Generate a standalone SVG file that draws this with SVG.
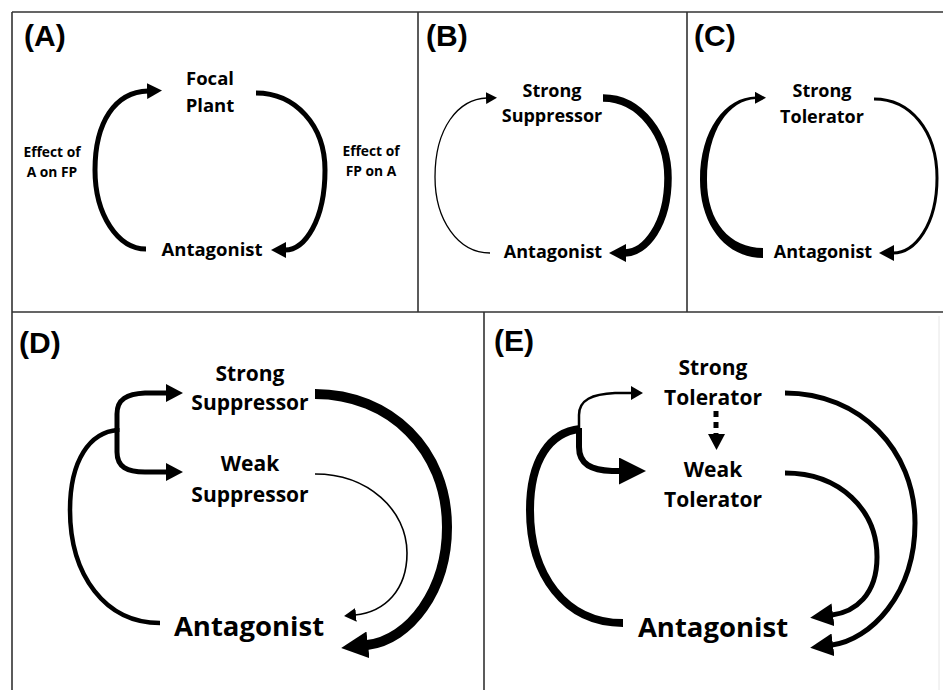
<svg xmlns="http://www.w3.org/2000/svg" width="943" height="690" viewBox="0 0 943 690">
<style>
.frame{stroke:#333;stroke-width:1.6;fill:none}
.lbl{font-family:"Liberation Sans",Arial,sans-serif;font-weight:bold;font-size:30px;fill:#000}
.n{font-family:"Open Sans","Noto Sans",sans-serif;font-weight:700;fill:#000;text-anchor:middle}
.s14{font-size:13.8px}
.s18{font-size:18px}
.s19{font-size:18.5px}
.s21{font-size:21px}
.s28{font-size:27.5px}
.c{fill:none;stroke:#000;stroke-linecap:butt}
.ah{fill:#000}
</style>
<defs>
<marker id="m10" markerUnits="userSpaceOnUse" markerWidth="11" markerHeight="12" viewBox="0 0 11 12" refX="1" refY="6" orient="auto"><path class="ah" d="M0,0 L11,6 L0,12 Z"/></marker>
<marker id="m12" markerUnits="userSpaceOnUse" markerWidth="12" markerHeight="14" viewBox="0 0 12 14" refX="1" refY="7" orient="auto"><path class="ah" d="M0,0 L12,7 L0,14 Z"/></marker>
<marker id="m15" markerUnits="userSpaceOnUse" markerWidth="15" markerHeight="16" viewBox="0 0 15 16" refX="1" refY="8" orient="auto"><path class="ah" d="M0,0 L15,8 L0,16 Z"/></marker>
<marker id="m17" markerUnits="userSpaceOnUse" markerWidth="17" markerHeight="18" viewBox="0 0 17 18" refX="1" refY="9" orient="auto"><path class="ah" d="M0,0 L17,9 L0,18 Z"/></marker>
<marker id="m22" markerUnits="userSpaceOnUse" markerWidth="23" markerHeight="23" viewBox="0 0 23 23" refX="1" refY="11.5" orient="auto"><path class="ah" d="M0,0 L23,11.5 L0,23 Z"/></marker>
<marker id="m26" markerUnits="userSpaceOnUse" markerWidth="27" markerHeight="27" viewBox="0 0 27 27" refX="1" refY="13.5" orient="auto"><path class="ah" d="M0,0 L27,13.5 L0,27 Z"/></marker>
</defs>
<rect width="943" height="690" fill="#fff"/>
<g id="frames">
<path class="frame" d="M12,12 H943 M12,12 V690 M12,312 H943 M418,12 V312 M687,12 V312 M484,312 V690"/>
<path d="M939,316 V690" stroke="#e6e6e6" stroke-width="1"/>
</g>
<g id="panel-labels">
<text class="lbl" x="24" y="46">(A)</text>
<text class="lbl" x="426" y="46">(B)</text>
<text class="lbl" x="694" y="46">(C)</text>
<text class="lbl" x="19" y="353">(D)</text>
<text class="lbl" x="494" y="351">(E)</text>
</g>
<g id="connectors">
<!-- A -->
<path class="c" stroke-width="5" d="M146,249 C118,249 95,215 95,170 C95,122 115,92 148,91" marker-end="url(#m15)"/>
<path class="c" stroke-width="5" d="M256,93 C295,93 325,125 325,170 C325,220 305,250 285,250" marker-end="url(#m15)"/>
<!-- B -->
<path class="c" stroke-width="1.3" d="M490,253 C458,253 435,220 435,177 C435,128 458,99 487,98" marker-end="url(#m10)"/>
<path class="c" stroke-width="7.5" d="M603,98 C640,98 668,135 668,178 C668,225 645,253 625,253" marker-end="url(#m17)"/>
<!-- C -->
<path fill="#000" d="M763,258 C726,258 700,225 700,180 C700,130 725,97 756,96.5 L756,99 C729,100 707,130 707,180 C707,222 730,248 763,248 Z"/>
<path class="c" stroke-width="1" d="M755,97.8 L756,97.8" marker-end="url(#m10)"/>
<path class="c" stroke-width="3" d="M874,99 C910,99 937,130 937,178 C937,225 915,253 893,253" marker-end="url(#m15)"/>
<!-- D -->
<path class="c" stroke-width="4.5" d="M160,623 C105,623 70,575 70,510 C70,460 90,432 118,430"/>
<path class="c" stroke-width="5" d="M117,432 L117,414 C117,399 127,394 145,393 L167,393" marker-end="url(#m17)"/>
<path class="c" stroke-width="5" d="M117,428 L117,452 C117,467 127,472 145,472 L167,472" marker-end="url(#m17)"/>
<path class="c" stroke-width="10" d="M315,394 C390,394 447,450 447,527 C447,590 410,640 367,645" marker-end="url(#m26)"/>
<path class="c" stroke-width="1.6" d="M315,474 C368,474 407,510 407,553 C407,590 385,612 355,615" marker-end="url(#m12)"/>
<!-- E -->
<path class="c" stroke-width="8" d="M623,623 C565,623 530,575 530,510 C530,460 550,432 580,429"/>
<path class="c" stroke-width="2.5" d="M579,431 L579,415 C579,400 592,394 615,393 L632,393" marker-end="url(#m12)"/>
<path class="c" stroke-width="6" d="M579,428 L579,447 C579,465 592,470 612,471 L620,471" marker-end="url(#m26)"/>
<path class="c" stroke-width="5" d="M785,393 C860,393 915,450 915,523 C915,595 870,640 832,645" marker-end="url(#m22)"/>
<path class="c" stroke-width="5" d="M785,473 C840,473 877,510 877,557 C877,595 855,612 832,615" marker-end="url(#m22)"/>
<path class="c" stroke-width="5" stroke-dasharray="6,5" d="M716,411 V434"/>
<polygon class="ah" points="708,434 725,434 716.5,450"/>
</g>
<g id="A-focal-plant"><text class="n s19" x="210" y="85">Focal</text><text class="n s19" x="210" y="112">Plant</text></g>
<g id="A-antagonist"><text class="n s19" x="212" y="256">Antagonist</text></g>
<g id="A-label-left"><text class="n s14" x="52" y="157">Effect of</text><text class="n s14" x="52" y="177">A on FP</text></g>
<g id="A-label-right"><text class="n s14" x="371" y="156">Effect of</text><text class="n s14" x="371" y="176">FP on A</text></g>
<g id="B-strong-suppressor"><text class="n s18" x="552" y="97">Strong</text><text class="n s18" x="552" y="122">Suppressor</text></g>
<g id="B-antagonist"><text class="n s18" x="553" y="258">Antagonist</text></g>
<g id="C-strong-tolerator"><text class="n s18" x="822" y="97">Strong</text><text class="n s18" x="822" y="123">Tolerator</text></g>
<g id="C-antagonist"><text class="n s18" x="823" y="258">Antagonist</text></g>
<g id="D-strong-suppressor"><text class="n s21" x="250" y="381">Strong</text><text class="n s21" x="250" y="410">Suppressor</text></g>
<g id="D-weak-suppressor"><text class="n s21" x="250" y="471">Weak</text><text class="n s21" x="250" y="502">Suppressor</text></g>
<g id="D-antagonist"><text class="n s28" x="249" y="636">Antagonist</text></g>
<g id="E-strong-tolerator"><text class="n s21" x="713" y="375">Strong</text><text class="n s21" x="713" y="405">Tolerator</text></g>
<g id="E-weak-tolerator"><text class="n s21" x="713" y="477">Weak</text><text class="n s21" x="713" y="507">Tolerator</text></g>
<g id="E-antagonist"><text class="n s28" x="713" y="637">Antagonist</text></g>
</svg>
